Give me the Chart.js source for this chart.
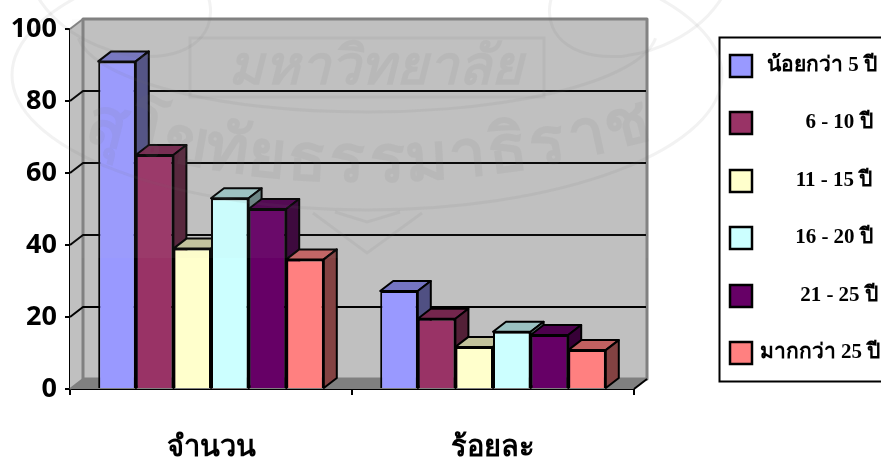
<!DOCTYPE html>
<html>
<head>
<meta charset="utf-8">
<title>chart</title>
<script src="https://cdn.jsdelivr.net/npm/chart.js@4"></script>
<style>
	html, body { margin: 0; padding: 0; background: #ffffff; }
	#wrap { position: relative; width: 881px; height: 462px; overflow: hidden; }
</style>
</head>
<body>
<div id="wrap"><canvas id="myChart" width="881" height="462"></canvas></div>
<script>
var categories = ['จำนวน', 'ร้อยละ'];
var seriesNames = ['น้อยกว่า 5 ปี', '6 - 10 ปี', '11 - 15 ปี', '16 - 20 ปี', '21 - 25 ปี', 'มากกว่า 25 ปี'];
var under5 = [91, 27.2];
var y6to10 = [65, 19.5];
var y11to15 = [39, 11.7];
var y16to20 = [53, 15.9];
var y21to25 = [50, 15.0];
var over25 = [36, 10.8];
var yTicks = [0, 20, 40, 60, 80, 100];
var sealTop = 'มหาวิทยาลัย';
var sealBottom = ['สุ', 'โ', 'ข', 'ทั', 'ย', 'ธ', 'ร', 'ร', 'ม', 'า', 'ธิ', 'ร', 'า', 'ช'];
var seriesValues = [under5, y6to10, y11to15, y16to20, y21to25, over25];
var seriesColors = ['#9999FF', '#993366', '#FFFFCC', '#CCFFFF', '#660066', '#FF8080'];
var topColors = ['#7474C2', '#74264D', '#C2C29B', '#9BC2C2', '#4D004D', '#C26161'];
var sideColors = ['#505083', '#532037', '#83836A', '#6A8383', '#370037', '#834242'];

// depth of the fake 3d box
var DX = 13, DY = -10;

function poly(ctx, pts, fill, stroke, lw) {
	ctx.beginPath();
	ctx.moveTo(pts[0][0], pts[0][1]);
	for (var i = 1; i < pts.length; i++) ctx.lineTo(pts[i][0], pts[i][1]);
	ctx.closePath();
	if (fill) { ctx.fillStyle = fill; ctx.fill(); }
	if (stroke) { ctx.strokeStyle = stroke; ctx.lineWidth = lw; ctx.lineJoin = 'round'; ctx.stroke(); }
}

// walls, floor and gridlines behind the bars
var boxPlugin = {
	id: 'box',
	beforeDatasetsDraw: function(chart) {
		var ctx = chart.ctx, a = chart.chartArea, y = chart.scales.y;
		ctx.save();
		poly(ctx, [[a.left, a.top], [a.left + DX, a.top + DY], [a.left + DX, a.bottom + DY], [a.left, a.bottom]], '#C0C0C0');
		poly(ctx, [[a.left + DX, a.top + DY], [a.right + DX, a.top + DY], [a.right + DX, a.bottom + DY], [a.left + DX, a.bottom + DY]], '#C0C0C0', '#808080', 3);
		poly(ctx, [[a.left, a.bottom], [a.left + DX, a.bottom + DY], [a.right + DX, a.bottom + DY], [a.right, a.bottom]], '#808080');
		ctx.strokeStyle = '#000000';
		ctx.lineWidth = 2;
		yTicks.forEach(function(v) {
			var py = y.getPixelForValue(v);
			ctx.beginPath();
			ctx.moveTo(a.left, py);
			ctx.lineTo(a.left + DX, py + DY);
			if (v > 0 && v < 100) ctx.lineTo(a.right + DX - 1, py + DY);
			if (v === 0 || v === 100) ctx.strokeStyle = '#808080';
			ctx.stroke();
			ctx.strokeStyle = '#000000';
		});
		ctx.beginPath();
		ctx.moveTo(a.right, a.bottom);
		ctx.lineTo(a.right + DX, a.bottom + DY);
		ctx.stroke();

		// top and side faces, front faces come from the bar elements
		categories.forEach(function(c, idx) {
			seriesValues.forEach(function(s, i) {
				var b = chart.getDatasetMeta(i).data[idx];
				var l = b.x - b.width / 2, r = b.x + b.width / 2, t = b.y, bt = b.base;
				poly(ctx, [[l, t], [l + DX, t + DY], [r + DX, t + DY], [r, t]], topColors[i], '#000000', 2);
				poly(ctx, [[r, t], [r + DX, t + DY], [r + DX, bt + DY], [r, bt]], sideColors[i], '#000000', 2);
			});
		});
		ctx.restore();
	},
	afterDraw: function(chart) {
		drawLegend(chart.ctx);
		drawSeal(chart.ctx);
	}
};

function drawLegend(ctx) {
	var rows = [66, 123, 181, 238, 296, 353];
	var textX = [822, 839, 834, 834, 839, 820];
	ctx.save();
	ctx.strokeStyle = '#000000';
	ctx.lineWidth = 2;
	ctx.strokeRect(719.5, 37.5, 170, 344);
	ctx.font = 'bold 21px "Liberation Serif", serif';
	ctx.textAlign = 'center';
	ctx.textBaseline = 'middle';
	seriesNames.forEach(function(name, i) {
		ctx.fillStyle = seriesColors[i];
		ctx.fillRect(730, rows[i] - 11, 22, 22);
		ctx.lineWidth = 2.5;
		ctx.strokeRect(730, rows[i] - 11, 22, 22);
		ctx.fillStyle = '#000000';
		ctx.fillText(name, textX[i], rows[i]);
	});
	ctx.restore();
}

// faint university seal laid over the top part of the page
function drawSeal(ctx) {
	var ink = 'rgba(110,110,110,0.09)';
	ctx.save();
	ctx.fillStyle = 'rgba(192,192,192,0.05)';
	ctx.fillRect(72, 19, 576, 239);
	ctx.fillStyle = ink;
	ctx.strokeStyle = ink;
	ctx.lineWidth = 3;
	ctx.textAlign = 'center';
	ctx.textBaseline = 'alphabetic';

	ctx.font = 'bold italic 54px "Liberation Serif", serif';
	ctx.fillText(sealTop, 375, 84);

	// lower line of the seal follows a shallow arc
	ctx.font = 'bold 66px "Liberation Serif", serif';
	var n = sealBottom.length;
	sealBottom.forEach(function(ch, i) {
		var t = i / (n - 1) - 0.5;
		var px = 367 + t * 530;
		var py = 182 - 150 * t * t;
		ctx.save();
		ctx.translate(px, py);
		ctx.rotate(-t * 0.5);
		ctx.fillText(ch, 0, 0);
		ctx.restore();
	});

	ctx.beginPath();
	ctx.ellipse(367, 75, 355, 135, 0, 0, Math.PI * 2);
	ctx.stroke();
	ctx.beginPath();
	ctx.ellipse(367, 30, 290, 82, 0, 0.1, Math.PI - 0.1);
	ctx.stroke();
	ctx.strokeRect(190, 38, 354, 59);
	ctx.beginPath();
	ctx.moveTo(313, 213);
	ctx.lineTo(367, 253);
	ctx.lineTo(422, 213);
	ctx.moveTo(335, 212);
	ctx.lineTo(367, 222);
	ctx.lineTo(400, 212);
	ctx.stroke();
	ctx.beginPath();
	ctx.ellipse(120, -10, 95, 60, 0.4, 0, Math.PI * 2);
	ctx.moveTo(735, -10);
	ctx.ellipse(640, -10, 95, 60, -0.4, 0, Math.PI * 2);
	ctx.stroke();
	ctx.restore();
}

var datasets = [];
for (var i = 0; i < seriesNames.length; i++) {
	datasets.push({
		label: seriesNames[i],
		data: seriesValues[i],
		backgroundColor: seriesColors[i],
		borderColor: '#000000',
		borderWidth: 2,
		categoryPercentage: 0.8,
		barPercentage: 1
	});
}

var chart = new Chart(document.getElementById('myChart').getContext('2d'), {
	type: 'bar',
	data: { labels: categories, datasets: datasets },
	plugins: [boxPlugin],
	options: {
		responsive: false,
		animation: false,
		layout: { padding: { left: 0, right: 247, top: 29, bottom: 0 } },
		plugins: { legend: { display: false }, tooltip: { enabled: false } },
		scales: {
			x: {
				afterFit: function(s) { s.height = 73; },
				border: { color: '#000000', width: 2 },
				grid: { drawOnChartArea: false, color: '#000000', lineWidth: 2, tickLength: 6, offset: true },
				ticks: { color: '#000000', padding: 36, font: { family: '"Liberation Serif", serif', size: 29, weight: 'bold' } }
			},
			y: {
				min: 0,
				max: 100,
				afterFit: function(s) { s.width = 70; },
				afterBuildTicks: function(s) { s.ticks = yTicks.map(function(v) { return { value: v }; }); },
				border: { color: '#000000', width: 2 },
				grid: { drawOnChartArea: false, color: '#000000', lineWidth: 2, tickLength: 5 },
				ticks: { color: '#000000', padding: 8, font: { family: '"Open Sans", sans-serif', size: 27, weight: 'bold' } }
			}
		}
	}
});
</script>
</body>
</html>
